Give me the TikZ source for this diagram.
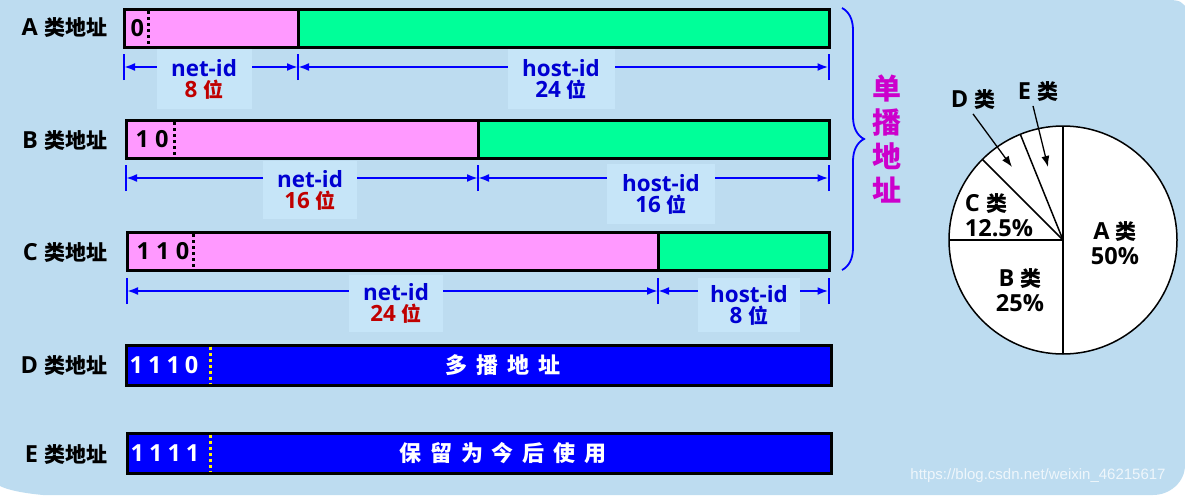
\documentclass[tikz,border=0pt]{standalone}
\usepackage{fontspec}
\setmainfont{Open Sans}[Scale=1.12]
\newfontfamily\cjk{Noto Sans CJK SC}
\newfontfamily\wmfont{Liberation Sans}
\usetikzlibrary{arrows.meta,positioning,decorations.pathreplacing}
\definecolor{bgblue}{RGB}{189,220,240}
\definecolor{lblbox}{RGB}{198,229,248}
\definecolor{netpink}{RGB}{255,153,255}
\definecolor{hostgreen}{RGB}{0,255,153}
\definecolor{stripeblue}{RGB}{0,0,255}
\definecolor{idblue}{RGB}{0,0,210}
\definecolor{idred}{RGB}{192,0,0}
\definecolor{unimag}{RGB}{204,0,204}
\newcommand\zh[1]{{\cjk #1}}
\newcommand\chgap{\hspace{9pt}}
\newcommand\bitgap{\hspace{5pt}}

\begin{document}
\begin{tikzpicture}[x=1pt,y=-1pt,
  bar/.style={draw,line width=3pt,inner sep=0pt,outer sep=0pt,anchor=north west},
  rowlbl/.style={font=\bfseries\fontsize{21}{22}\selectfont,anchor=east},
  bitstxt/.style={font=\bfseries\fontsize{21}{22}\selectfont,anchor=west,inner sep=0pt},
  dim/.style={{Latex[length=11pt,width=8pt]}-{Latex[length=11pt,width=8pt]},blue,line width=2pt},
  tick/.style={blue,line width=2pt},
  dimlbl/.style={fill=lblbox,align=center,inner sep=0pt,font=\bfseries\fontsize{20}{21}\selectfont,text=idblue},
  sep/.style={line width=3pt,dash pattern=on 3pt off 3pt},
  pielbl/.style={font=\bfseries\fontsize{21}{25}\selectfont,align=center},
  ptr/.style={-{Latex[length=11pt,width=8pt]},line width=1.3pt}]
\useasboundingbox (0,0) rectangle (1185,495);
\fill[white] (0,0) rectangle (1185,495);
\fill[bgblue] (0,0) -- (1172,0) .. controls (1180,1) .. (1185,6) -- (1185,465)
  .. controls (1185,482) and (1170,495) .. (1153,495) -- (43,495)
  .. controls (22,493) and (8,490) .. (0,486) -- cycle;
\foreach \r/\y in {A/28,B/141,C/253,D/366,E/455}
  \node[rowlbl] (lbl\r) at (111,\y) {\r\ \zh{类地址}};
\foreach \r/\yt/\xl/\xs/\xd/\bits/\yd/\bx in {A/9.5/124.5/298/148/0/67/6,B/120.5/126.5/478/174/1 0/178/9,C/232.5/127.5/658/193/1 1 0/291/9}
  {\node[bar,fill=netpink,minimum width={\xs-\xl},minimum height=38pt] (net\r) at (\xl,\yt) {};
   \node[bar,fill=hostgreen,minimum width={829.5-\xs},minimum height=38pt] (host\r) at (net\r.north east) {};
   \node[bitstxt] (bits\r) at ([xshift=\bx pt]net\r.west) {\bits};
   \draw[sep] (\xd,\yt+1.5) -- (\xd,\yt+36.5);
   \coordinate (dl\r) at (\xl-0.5,\yd);
   \coordinate (dm\r) at (\xs,\yd);
   \coordinate (dr\r) at (828.5,\yd);
   \foreach \c in {dl\r,dm\r,dr\r}
     \draw[tick] ([yshift=-13pt]\c) -- ([yshift=13pt]\c);
   \draw[dim] (dl\r) -- (dm\r);
   \draw[dim] (dm\r) -- (dr\r);}
\node[dimlbl,minimum width=95pt,minimum height=60pt] (netlblA) at (204,79) {net-id\\\textcolor{idred}{8 \zh{位}}};
\node[dimlbl,minimum width=107pt,minimum height=60pt] (hostlblA) at (561,79) {host-id\\24 \zh{位}};
\node[dimlbl,minimum width=94pt,minimum height=58pt] (netlblB) at (310,190) {net-id\\\textcolor{idred}{16 \zh{位}}};
\node[dimlbl,minimum width=108pt,minimum height=60pt] (hostlblB) at (661,194) {host-id\\16 \zh{位}};
\node[dimlbl,minimum width=94pt,minimum height=57pt] (netlblC) at (396,303) {net-id\\\textcolor{idred}{24 \zh{位}}};
\node[dimlbl,minimum width=102pt,minimum height=54pt] (hostlblC) at (749,305) {host-id\\8 \zh{位}};
\foreach \r/\yt/\xl/\bits/\txt in {D/345/126.5/1\bitgap 1\bitgap 1\bitgap 0/多\chgap 播\chgap 地\chgap 址,E/433/127.5/1\bitgap 1\bitgap 1\bitgap 1/保\chgap 留\chgap 为\chgap 今\chgap 后\chgap 使\chgap 用}
  {\node[bar,fill=stripeblue,minimum width={831.5-\xl},minimum height=40pt] (bar\r) at (\xl,\yt) {};
   \node[bitstxt,text=white] (bits\r) at ([xshift=3pt]bar\r.west) {\bits};
   \draw[sep,yellow] (210,\yt+1.5) -- (210,\yt+38.5);
   \node[text=white,font=\cjk\bfseries\fontsize{22}{22}\selectfont] (txt\r) at (503,\yt+20) {\txt};}
\draw[blue,line width=1.8pt,decorate,decoration={brace,amplitude=22pt}] (842,8) -- (842,270);
\node[font=\cjk\bfseries\fontsize{29}{34}\selectfont,text=unimag,align=center] (unicast) at (887,139) {单\\播\\地\\址};
\node[circle,draw,fill=white,line width=1.5pt,minimum size=228pt,inner sep=0pt,outer sep=0pt] (pie) at (1063,240) {};
\foreach \a in {90,112.5,135,180,270}
  \draw[line width=1.5pt] (pie.center) -- (pie.\a);
\node[pielbl] (pA) at (1115,243) {A \zh{类}\\50\%};
\node[pielbl] (pB) at (1020,290) {B \zh{类}\\25\%};
\node[pielbl,align=left] (pC) at (999,215) {C \zh{类}\\12.5\%};
\node[pielbl] (pD) at (973,100) {D \zh{类}};
\node[pielbl] (pE) at (1038,92) {E \zh{类}};
\coordinate (dtip) at (1012,167);
\coordinate (etip) at (1048,167);
\draw[ptr] (pD.south) -- (dtip);
\draw[ptr] ([xshift=-5pt]pE.south) -- (etip);
\node[font=\wmfont\fontsize{15}{15}\selectfont,text=white,opacity=.75] (wm) at (1038,476) {https://blog.csdn.net/weixin\_46215617};
\end{tikzpicture}
\end{document}
